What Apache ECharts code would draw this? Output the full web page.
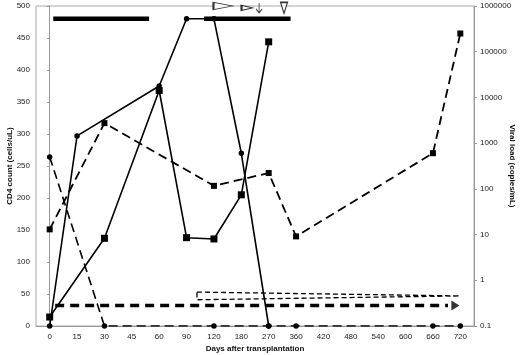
<!DOCTYPE html>
<html>
<head>
<meta charset="utf-8">
<script src="https://cdn.jsdelivr.net/npm/echarts@6/dist/echarts.min.js"></script>
<style>
  html, body { margin: 0; padding: 0; background: #fff; }
  #main { width: 520px; height: 355px; }
</style>
</head>
<body>
<div id="main"></div>
<script>
// days after transplantation (category axis)
var days = ['0', '15', '30', '45', '60', '90', '120', '180', '270', '360', '420', '480', '540', '600', '660', '720'];

// CD4 count (cells/uL), left axis - squares
var cd4Solid  = [14, null, 137, null, 368, 138, 136, 205, 444, null, null, null, null, null, null, null];
var cd4Dashed = [151, null, 317, null, null, null, 219, null, 239, 140, null, null, null, null, 270, 457];

// viral load (copies/mL), right log axis - circles
var vlSolid  = [0.1, 1440, null, null, 17800, 525000, 525000, 600, 0.1, null, null, null, null, null, null, null];
var vlDashed = [500, null, 0.1, null, null, null, 0.1, null, 0.1, 0.1, null, null, null, null, 0.1, 0.1];

// axis ticks
var cd4Ticks = [0, 500, 50];
var vlRange = [0.1, 1000000];

// annotations, x in category-index units, y in CD4 units
var therapyBar1 = [[0.13, 480], [3.63, 480]];
var therapyBar2 = [[5.64, 480], [8.8, 480]];
var openTriRight = [[6.33, 500]];
var smallTriRight = [[7.21, 497]];
var downArrow = [[7.65, 497]];
var openTriDown = [[8.56, 497]];
var thickArrowShaft = [[0.2, 32], [14.55, 32]];
var thickArrowHead = [[14.82, 32]];
var wedgeArrow = [[5.38, 53], [14.98, 47], [5.38, 41], [5.38, 53]];

var chart = echarts.init(document.getElementById('main'));
var font = 'Arial, "Liberation Sans", sans-serif';
var txt = '#222';

var option = {
  backgroundColor: '#fff',
  animation: false,
  grid: {
    left: 36, right: 46, top: 6, bottom: 29,
    containLabel: false,
    outerBoundsMode: 'none',
    show: true, borderColor: '#aaa', borderWidth: 1
  },
  xAxis: [{
    type: 'category',
    data: days,
    name: 'Days after transplantation',
    nameLocation: 'middle',
    nameGap: 19,
    nameMoveOverlap: false,
    nameTextStyle: { fontFamily: font, fontSize: 8, fontWeight: 'bold', color: '#111' },
    axisLine: { lineStyle: { color: '#999', width: 1 } },
    axisTick: { length: 3, lineStyle: { color: '#999' } },
    axisLabel: { interval: 0, fontFamily: font, fontSize: 8, color: txt, margin: 7 },
    splitLine: { show: false }
  }, {
    type: 'value',
    min: -0.5, max: 15.5,
    show: false
  }],
  yAxis: [{
    type: 'value',
    min: cd4Ticks[0], max: cd4Ticks[1], interval: cd4Ticks[2],
    name: 'CD4 count (cells/uL)',
    nameLocation: 'middle',
    nameRotate: 90,
    nameGap: 22,
    nameMoveOverlap: false,
    nameTextStyle: { fontFamily: font, fontSize: 8, fontWeight: 'bold', color: '#111' },
    axisLine: { show: true, lineStyle: { color: '#999' } },
    axisTick: { show: true, length: 3, lineStyle: { color: '#999' } },
    axisLabel: { fontFamily: font, fontSize: 8, color: txt, margin: 6 },
    splitLine: { show: false }
  }, {
    type: 'log',
    logBase: 10,
    min: vlRange[0], max: vlRange[1],
    splitNumber: 7,
    position: 'right',
    name: 'Viral load (copies/mL)',
    nameLocation: 'middle',
    nameRotate: -90,
    nameGap: 34,
    nameMoveOverlap: false,
    nameTextStyle: { fontFamily: font, fontSize: 8, fontWeight: 'bold', color: '#111' },
    axisLine: { show: true, lineStyle: { color: '#999' } },
    axisTick: { show: true, length: 3, lineStyle: { color: '#999' } },
    axisLabel: {
      fontFamily: font, fontSize: 8, color: txt, margin: 6,
      formatter: function (v) { return String(parseFloat(Number(v).toPrecision(6))); }
    },
    splitLine: { show: false },
    minorTick: { show: false }
  }],
  series: [
    // main data
    {
      type: 'line', data: cd4Solid, yAxisIndex: 0, connectNulls: true,
      symbol: 'rect', symbolSize: 7, showAllSymbol: true,
      lineStyle: { color: '#000', width: 1.6 }, itemStyle: { color: '#000' }
    },
    {
      type: 'line', data: cd4Dashed, yAxisIndex: 0, connectNulls: true,
      symbol: 'rect', symbolSize: 6, showAllSymbol: true,
      lineStyle: { color: '#000', width: 1.8, type: [9, 5] }, itemStyle: { color: '#000' }
    },
    {
      type: 'line', data: vlSolid, yAxisIndex: 1, connectNulls: true,
      symbol: 'circle', symbolSize: 5.5, showAllSymbol: true,
      lineStyle: { color: '#000', width: 1.6 }, itemStyle: { color: '#000' }
    },
    {
      type: 'line', data: vlDashed, yAxisIndex: 1, connectNulls: true,
      symbol: 'circle', symbolSize: 5.5, showAllSymbol: true,
      lineStyle: { color: '#000', width: 1.6, type: [9, 5] }, itemStyle: { color: '#000' }
    },
    // treatment bars
    {
      type: 'line', xAxisIndex: 1, yAxisIndex: 0, data: therapyBar1, symbol: 'none',
      lineStyle: { color: '#000', width: 4.5 }
    },
    {
      type: 'line', xAxisIndex: 1, yAxisIndex: 0, data: therapyBar2, symbol: 'none',
      lineStyle: { color: '#000', width: 4.5 }
    },
    // markers on top
    {
      type: 'scatter', xAxisIndex: 1, yAxisIndex: 0, data: openTriRight, clip: false,
      symbol: 'triangle', symbolSize: [7, 19], symbolRotate: -90,
      itemStyle: { color: '#fff', borderColor: '#000', borderWidth: 1.3 }
    },
    {
      type: 'scatter', xAxisIndex: 1, yAxisIndex: 0, data: smallTriRight, clip: false,
      symbol: 'triangle', symbolSize: [5, 11], symbolRotate: -90,
      itemStyle: { color: '#fff', borderColor: '#000', borderWidth: 1.5 }
    },
    {
      type: 'scatter', xAxisIndex: 1, yAxisIndex: 0, data: downArrow, clip: false,
      symbol: 'path://M5,0 L5,10 M2,6 L5,10 L8,6', symbolSize: [6, 10],
      itemStyle: { color: 'none', borderColor: '#000', borderWidth: 1 }
    },
    {
      type: 'scatter', xAxisIndex: 1, yAxisIndex: 0, data: openTriDown, clip: false,
      symbol: 'triangle', symbolSize: [7, 11], symbolRotate: 180,
      itemStyle: { color: '#fff', borderColor: '#000', borderWidth: 1.3 }
    },
    // therapy arrows at the bottom
    {
      type: 'line', xAxisIndex: 1, yAxisIndex: 0, data: thickArrowShaft, symbol: 'none',
      lineStyle: { color: '#000', width: 3.5, type: [9, 6] }
    },
    {
      type: 'scatter', xAxisIndex: 1, yAxisIndex: 0, data: thickArrowHead,
      symbol: 'triangle', symbolSize: [10, 8], symbolRotate: -90,
      itemStyle: { color: '#000' }
    },
    {
      type: 'line', xAxisIndex: 1, yAxisIndex: 0, data: wedgeArrow, symbol: 'none',
      lineStyle: { color: '#000', width: 1.3, type: [5, 3] }
    }
  ]
};

chart.setOption(option);
</script>
</body>
</html>
